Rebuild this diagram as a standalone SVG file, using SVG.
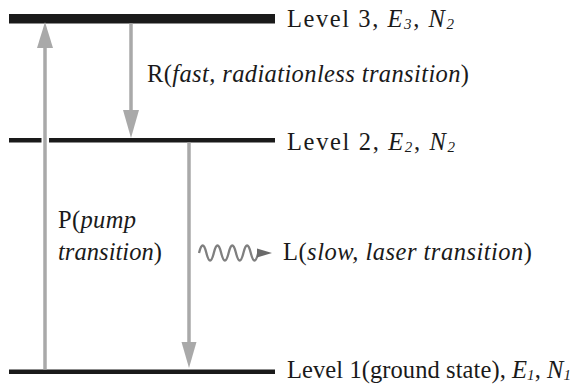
<svg xmlns="http://www.w3.org/2000/svg" width="575" height="385" viewBox="0 0 575 385">
<style>
text{font-family:"Liberation Serif","Times New Roman",serif;font-size:24.5px;fill:#1a1a1a}
.i{font-style:italic}
.sub{font-size:15px;font-style:italic}
.lvl{fill:#1a1a1a}
.arr{stroke:#a9a9a9;stroke-width:3.5;fill:none}
.head{fill:#a9a9a9}
</style>
<rect width="575" height="385" fill="#ffffff"/>
<g id="level3">
<rect class="lvl" x="9" y="14" width="266" height="9.5"/>
<text x="287" y="27" textLength="167" lengthAdjust="spacing">Level 3, <tspan class="i">E</tspan><tspan class="sub" dy="2">3</tspan><tspan dy="-2">, </tspan><tspan class="i">N</tspan><tspan class="sub" dy="2">2</tspan></text>
</g>
<g id="level2">
<rect class="lvl" x="9" y="138" width="32.5" height="4.5"/>
<rect class="lvl" x="49" y="138" width="226" height="4.5"/>
<text x="287" y="150" textLength="168" lengthAdjust="spacing">Level 2, <tspan class="i">E</tspan><tspan class="sub" dy="2">2</tspan><tspan dy="-2">, </tspan><tspan class="i">N</tspan><tspan class="sub" dy="2">2</tspan></text>
</g>
<g id="level1">
<rect class="lvl" x="9" y="369.5" width="266" height="4.5"/>
<text x="287" y="378" textLength="284" lengthAdjust="spacing">Level 1(ground state), <tspan class="i">E</tspan><tspan class="sub" dy="2">1</tspan><tspan dy="-2">, </tspan><tspan class="i">N</tspan><tspan class="sub" dy="2">1</tspan></text>
</g>
<g id="connectors">
<g id="pump">
<line class="arr" x1="45" y1="369.5" x2="45" y2="46"/>
<polygon class="head" points="45,22 37,48 53,48"/>
</g>
<g id="relax">
<line class="arr" x1="131" y1="23.5" x2="131" y2="112"/>
<polygon class="head" points="131,138 123,110 139,110"/>
</g>
<g id="laser">
<line class="arr" x1="189" y1="142.5" x2="189" y2="344"/>
<polygon class="head" points="189,368 181.5,342 196.5,342"/>
</g>
<g id="wave">
<path d="M199,253 q3.7,-15 7.4,0 t7.4,0 t7.4,0 t7.4,0 t7.4,0 t7.4,0 t7.4,0 t7.4,0" fill="none" stroke="#7f7f7f" stroke-width="2.3"/>
<polygon points="272,253 257,248.5 257,257.5" fill="#6a6a6a"/>
</g>
</g>
<g id="labels">
<text x="147" y="82" textLength="322" lengthAdjust="spacing">R(<tspan class="i">fast, radiationless transition</tspan>)</text>
<text x="58" y="228" textLength="78" lengthAdjust="spacing">P(<tspan class="i">pump</tspan></text>
<text x="58" y="260" textLength="104" lengthAdjust="spacing"><tspan class="i">transition</tspan>)</text>
<text x="283" y="260" textLength="249" lengthAdjust="spacing">L(<tspan class="i">slow, laser transition</tspan>)</text>
</g>
</svg>
